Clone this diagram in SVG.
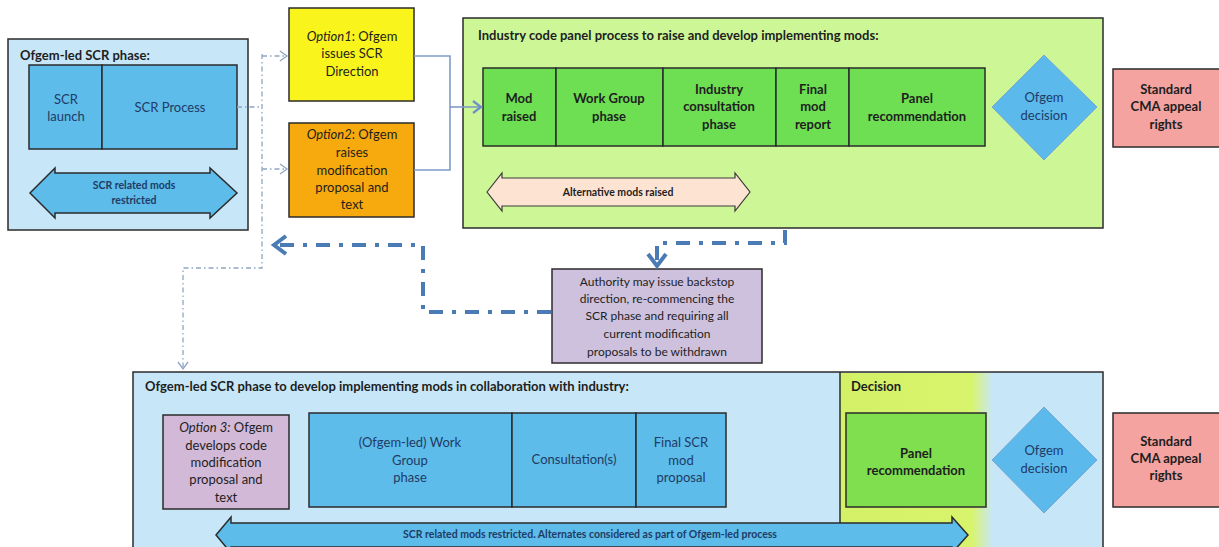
<svg xmlns="http://www.w3.org/2000/svg" width="1219" height="547" viewBox="0 0 1219 547">
<style>
text{font-family:Lato,"Liberation Sans",sans-serif;fill:#1e1e1e;text-anchor:middle}
.t{font-weight:bold;font-size:13px;text-anchor:start}
.b{font-weight:bold;font-size:13px}
.r{font-size:13px}
.n{fill:#1f3b66}
.s{font-size:12px}
.a{font-weight:bold;font-size:10.5px}
.box{stroke:#2b2b2b;stroke-width:1.5}
.blue{fill:#5dbce9}
.green{fill:#6ede52}
.lb{fill:#c7e7f8}
.dot{fill:none;stroke:#8ea6c4;stroke-width:1.3;stroke-dasharray:5 3 1.5 3}
.thick{fill:none;stroke:#4a7bb5;stroke-width:4;stroke-dasharray:14 9 4 9}
.sol{fill:none;stroke:#7d9dc6;stroke-width:1.6}
</style>
<defs>
<marker id="mThin" markerWidth="12" markerHeight="12" refX="9" refY="6" orient="auto" markerUnits="userSpaceOnUse">
<path d="M2,1 L9,6 L2,11" fill="none" stroke="#8ea6c4" stroke-width="1.3"/>
</marker>
<marker id="mSol" markerWidth="14" markerHeight="14" refX="11" refY="7" orient="auto" markerUnits="userSpaceOnUse">
<path d="M3,1 L11,7 L3,13" fill="none" stroke="#6d91c4" stroke-width="2.2"/>
</marker>
<marker id="mThick" markerWidth="22" markerHeight="22" refX="18" refY="11" orient="auto" markerUnits="userSpaceOnUse">
<path d="M6,2 L18,11 L6,20" fill="none" stroke="#4a7bb5" stroke-width="4"/>
</marker>
<linearGradient id="gDec" x1="0" x2="1" y1="0" y2="0">
<stop offset="0" stop-color="#d3f167"/>
<stop offset="0.86" stop-color="#d8f46c"/>
<stop offset="1" stop-color="#c7e7f8"/>
</linearGradient>
</defs>

<g id="ofgem-scr-phase">
<rect class="box lb" x="8" y="39" width="240" height="191"/>
<text class="t" x="20" y="60">Ofgem-led SCR phase:</text>
</g>
<g id="scr-launch">
<rect class="box blue" x="29" y="65" width="73" height="84"/>
<text class="r n" x="66" y="104">SCR</text>
<text class="r n" x="66" y="121">launch</text>
</g>
<g id="scr-process">
<rect class="box blue" x="102" y="65" width="135" height="84"/>
<text class="r n" x="170" y="112">SCR Process</text>
</g>
<g id="scr-mods-restricted">
<path class="box blue" stroke-width="1.2" d="M30,193 L55,168 V173 H210 V168 L237,193 L210,218 V213 H55 V218 Z"/>
<text class="a n" x="134" y="189">SCR related mods</text>
<text class="a n" x="134" y="204">restricted</text>
</g>

<g id="option1">
<rect class="box" fill="#f9f51c" x="289" y="8" width="125" height="93"/>
<text class="r" x="352" y="41"><tspan font-style="italic">Option1</tspan>: Ofgem</text>
<text class="r" x="352" y="58">issues SCR</text>
<text class="r" x="352" y="76">Direction</text>
</g>
<g id="option2">
<rect class="box" fill="#f7aa0d" x="289" y="123" width="125" height="94"/>
<text class="r" x="352" y="139"><tspan font-style="italic">Option2</tspan>: Ofgem</text>
<text class="r" x="352" y="157">raises</text>
<text class="r" x="352" y="175">modification</text>
<text class="r" x="352" y="192">proposal and</text>
<text class="r" x="352" y="209">text</text>
</g>

<g id="industry-panel">
<rect class="box" fill="#cdf797" x="463" y="18" width="640" height="210"/>
<text class="t" x="478" y="40">Industry code panel process to raise and develop implementing mods:</text>
</g>
<g id="mod-raised">
<rect class="box green" x="483" y="68" width="73" height="78"/>
<text class="b" x="519" y="103">Mod</text>
<text class="b" x="519" y="121">raised</text>
</g>
<g id="work-group">
<rect class="box green" x="556" y="68" width="107" height="78"/>
<text class="b" x="609" y="103">Work Group</text>
<text class="b" x="609" y="121">phase</text>
</g>
<g id="industry-consultation">
<rect class="box green" x="663" y="68" width="113" height="78"/>
<text class="b" x="719" y="94">Industry</text>
<text class="b" x="719" y="111">consultation</text>
<text class="b" x="719" y="129">phase</text>
</g>
<g id="final-mod-report">
<rect class="box green" x="776" y="68" width="73" height="78"/>
<text class="b" x="813" y="94">Final</text>
<text class="b" x="813" y="111">mod</text>
<text class="b" x="813" y="129">report</text>
</g>
<g id="panel-rec-top">
<rect class="box green" x="849" y="68" width="136" height="78"/>
<text class="b" x="917" y="103">Panel</text>
<text class="b" x="917" y="121">recommendation</text>
</g>
<g id="ofgem-decision-top">
<path fill="#5bb9ec" stroke="#7aa7cf" stroke-width="1" d="M1044,55 L1097,107 L1044,160 L992,107 Z"/>
<text class="r n" x="1044" y="102">Ofgem</text>
<text class="r n" x="1044" y="120">decision</text>
</g>
<g id="alt-mods">
<path fill="#fde3d2" stroke="#3a3a3a" stroke-width="1.2" d="M487,192 L502,173 V178 H735 V173 L750,192 L735,211 V206 H502 V211 Z"/>
<text class="a" x="618" y="196" font-weight="normal">Alternative mods raised</text>
</g>
<g id="cma-top">
<rect class="box" fill="#f4a3a1" x="1113" y="69" width="110" height="78"/>
<text class="b" x="1166" y="94">Standard</text>
<text class="b" x="1166" y="111">CMA appeal</text>
<text class="b" x="1166" y="129">rights</text>
</g>

<g id="backstop">
<rect class="box" fill="#cdc1dd" x="552" y="269" width="210" height="94"/>
<text class="s" x="657" y="286">Authority may issue backstop</text>
<text class="s" x="657" y="303">direction, re-commencing the</text>
<text class="s" x="657" y="320">SCR phase and requiring all</text>
<text class="s" x="657" y="338">current modification</text>
<text class="s" x="657" y="356">proposals to be withdrawn</text>
</g>

<g id="ofgem-collab-phase">
<rect class="box lb" x="133" y="372" width="970" height="185"/>
<rect x="840" y="373" width="153" height="180" fill="url(#gDec)"/>
<line x1="840" y1="372" x2="840" y2="547" stroke="#2b2b2b" stroke-width="1.5"/>
<text class="t" x="145" y="391">Ofgem-led SCR phase to develop implementing mods in collaboration with industry:</text>
<text class="t" x="851" y="391">Decision</text>
</g>
<g id="option3">
<rect class="box" fill="#d2b9d8" x="163" y="415" width="126" height="94"/>
<text class="r" x="226" y="432"><tspan font-style="italic">Option 3:</tspan> Ofgem</text>
<text class="r" x="226" y="450">develops code</text>
<text class="r" x="226" y="467">modification</text>
<text class="r" x="226" y="484">proposal and</text>
<text class="r" x="226" y="502">text</text>
</g>
<g id="ofgem-work-group">
<rect class="box blue" x="309" y="413" width="203" height="94"/>
<text class="r n" x="410" y="447">(Ofgem-led) Work</text>
<text class="r n" x="410" y="465">Group</text>
<text class="r n" x="410" y="482">phase</text>
</g>
<g id="consultations">
<rect class="box blue" x="512" y="413" width="124" height="94"/>
<text class="r n" x="574" y="464">Consultation(s)</text>
</g>
<g id="final-scr-proposal">
<rect class="box blue" x="636" y="413" width="90" height="94"/>
<text class="r n" x="681" y="447">Final SCR</text>
<text class="r n" x="681" y="465">mod</text>
<text class="r n" x="681" y="482">proposal</text>
</g>
<g id="scr-mods-restricted-bottom">
<path class="box blue" stroke-width="1.2" d="M216,535 L231,517 V523 H952 V517 L968,535 L952,553 V547 H231 V553 Z"/>
<text class="a n" x="590" y="538">SCR related mods restricted. Alternates considered as part of Ofgem-led process</text>
</g>
<g id="panel-rec-bottom">
<rect class="box" fill="#7fdf4f" x="846" y="413" width="140" height="94"/>
<text class="b" x="916" y="458">Panel</text>
<text class="b" x="916" y="475">recommendation</text>
</g>
<g id="ofgem-decision-bottom">
<path fill="#5bb9ec" stroke="#7aa7cf" stroke-width="1" d="M1044,407 L1097,460 L1044,513 L992,460 Z"/>
<text class="r n" x="1044" y="455">Ofgem</text>
<text class="r n" x="1044" y="473">decision</text>
</g>
<g id="cma-bottom">
<rect class="box" fill="#f4a3a1" x="1113" y="413" width="110" height="94"/>
<text class="b" x="1166" y="446">Standard</text>
<text class="b" x="1166" y="463">CMA appeal</text>
<text class="b" x="1166" y="480">rights</text>
</g>

<g id="connectors">
<path class="dot" d="M237,107 H262"/>
<path class="dot" d="M262,54 V268 H183 V369" marker-end="url(#mThin)"/>
<path class="dot" d="M262,56 H287" marker-end="url(#mThin)"/>
<path class="dot" d="M262,169 H287" marker-end="url(#mThin)"/>
<path class="sol" d="M414,56 H450 V170 H414"/>
<path class="sol" d="M450,107 H481" marker-end="url(#mSol)"/>
<path class="thick" d="M785,230 V243 H657 V266" marker-end="url(#mThick)"/>
<path class="thick" d="M551,312 H423 V245 H274" marker-end="url(#mThick)"/>
</g>
</svg>
